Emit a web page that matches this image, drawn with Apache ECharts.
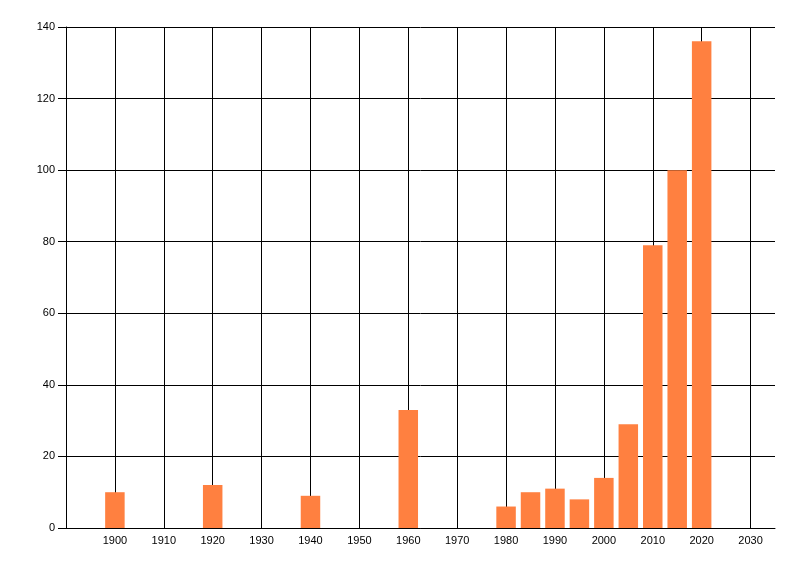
<!DOCTYPE html>
<html>
<head>
<meta charset="utf-8">
<script src="https://cdn.jsdelivr.net/npm/echarts@6/dist/echarts.min.js"></script>
<style>
  html, body { margin: 0; padding: 0; background: #fff; }
  #main { width: 800px; height: 576px; }
</style>
</head>
<body>
<div id="main"></div>
<script>
// years on the x axis and the bar heights
var years = [1900, 1920, 1940, 1960, 1980, 1985, 1990, 1995, 2000, 2005, 2010, 2015, 2020];
var counts = [10, 12, 9, 33, 6, 10, 11, 8, 14, 29, 79, 100, 136];

var myChart = echarts.init(document.getElementById('main'));

var option = {
  animation: false,
  grid: { left: 66, right: 25, top: 27, bottom: 48 },
  xAxis: {
    type: 'value',
    min: 1890,
    max: 2035,
    interval: 10,
    axisLine: { show: true, lineStyle: { color: '#000', width: 1 } },
    axisTick: { show: false },
    axisLabel: {
      color: '#000',
      fontFamily: 'Liberation Sans',
      fontSize: 11,
      margin: 7,
      showMinLabel: false,
      showMaxLabel: false,
      formatter: function (v) { return String(v) }
    },
    splitLine: { show: true, showMaxLine: false, lineStyle: { color: '#000', width: 1 } }
  },
  yAxis: {
    type: 'value',
    min: 0,
    max: 140,
    interval: 20,
    axisLine: { show: true, lineStyle: { color: '#000', width: 1 } },
    axisTick: { show: true, length: 8, lineStyle: { color: '#000' } },
    axisLabel: {
      color: '#000',
      fontFamily: 'Liberation Sans',
      fontSize: 11,
      margin: 11
    },
    splitLine: { show: true, lineStyle: { color: '#000', width: 1 } }
  },
  series: [{
    type: 'bar',
    barWidth: 19.5,
    itemStyle: { color: '#FF8040' },
    data: years.map(function (y, i) { return [y, counts[i]] })
  }]
};

myChart.setOption(option);
</script>
</body>
</html>
